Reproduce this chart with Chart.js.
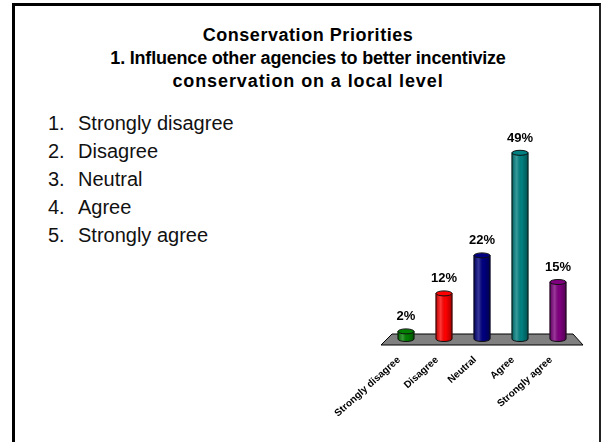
<!DOCTYPE html>
<html lang="en">
<head>
<meta charset="UTF-8">
<title>Conservation Priorities</title>
<script src="https://cdn.jsdelivr.net/npm/chart.js"></script>
<style>
    html, body { margin: 0; padding: 0; width: 602px; height: 442px; overflow: hidden; background: #fff; }
    .frame { position: absolute; left: 12px; top: 3px; width: 589px; height: 480px; box-sizing: border-box;
             border-left: 3px solid #000; border-top: 3px solid #000; border-right: 2px solid #222; }
    .title { position: absolute; left: 0; top: 24px; width: 616px; text-align: center;
             font: bold 18px "Liberation Sans", Arial, sans-serif; line-height: 23px; color: #000; }
    .title .l1 { letter-spacing: 0.55px; }
    .title .l2 { letter-spacing: -0.2px; }
    .title .l3 { letter-spacing: 0.9px; }
    .list { position: absolute; left: 48px; top: 109px; margin: 0; padding: 0; list-style: none;
            font: 20px "Liberation Sans", Arial, sans-serif; line-height: 28px; color: #111; }
    .list .num { display: inline-block; width: 30px; }
    #grafica { position: absolute; left: 0; top: 0; }
</style>
</head>
<body>
<div class="frame"></div>
<div class="title">
    <span class="l1">Conservation Priorities</span><br>
    <span class="l2">1. Influence other agencies to better incentivize</span><br>
    <span class="l3">conservation on a local level</span>
</div>
<ul class="list" id="lista"></ul>
<canvas id="grafica" width="602" height="442"></canvas>
<script>
const categories = ['Strongly disagree', 'Disagree', 'Neutral', 'Agree', 'Strongly agree'];
const percentValues = [2, 12, 22, 49, 15];
const barColors = ['#008000', '#ff0000', '#000080', '#008080', '#800080'];

// numbered list on the left
let lista = document.getElementById('lista');
categories.forEach((c, i) => {
    lista.innerHTML += `<li><span class="num">${i + 1}.</span>${c}</li>`;
});

// floor + cylinder look + value labels
const cylinderPlugin = {
    id: 'cylinders',
    beforeDatasetsDraw(chart) {
        const {ctx, chartArea: a, scales: {y}} = chart;
        const base = y.getPixelForValue(0);
        ctx.save();
        ctx.beginPath();
        ctx.moveTo(a.left + 5, base - 5);
        ctx.lineTo(a.right - 4, base - 5);
        ctx.lineTo(a.right + 6, base + 6);
        ctx.lineTo(a.left - 6, base + 6);
        ctx.closePath();
        ctx.fillStyle = '#808080';
        ctx.fill();
        ctx.strokeStyle = '#000';
        ctx.lineWidth = 1;
        ctx.stroke();
        ctx.restore();
    },
    afterDatasetsDraw(chart) {
        const ctx = chart.ctx;
        const meta = chart.getDatasetMeta(0);
        meta.data.forEach((bar, i) => {
            const {x, y, base, width} = bar.getProps(['x', 'y', 'base', 'width'], true);
            const r = width / 2, ry = 2.5, col = barColors[i];
            ctx.save();
            // body with rounded bottom
            ctx.beginPath();
            ctx.moveTo(x - r, y);
            ctx.lineTo(x - r, base);
            ctx.ellipse(x, base, r, ry, 0, Math.PI, 0, true);
            ctx.lineTo(x + r, y);
            ctx.closePath();
            ctx.fillStyle = col;
            ctx.fill();
            let g = ctx.createLinearGradient(x - r, 0, x + r, 0);
            g.addColorStop(0, 'rgba(0,0,0,0.25)');
            g.addColorStop(0.3, 'rgba(255,255,255,0.22)');
            g.addColorStop(0.6, 'rgba(0,0,0,0)');
            g.addColorStop(1, 'rgba(0,0,0,0.35)');
            ctx.fillStyle = g;
            ctx.fill();
            ctx.strokeStyle = '#111';
            ctx.lineWidth = 1;
            ctx.stroke();
            // top cap
            ctx.beginPath();
            ctx.ellipse(x, y, r, ry, 0, 0, Math.PI * 2);
            ctx.fillStyle = col;
            ctx.fill();
            ctx.stroke();
            // value label
            ctx.fillStyle = '#000';
            ctx.font = 'bold 13px "Liberation Sans", Arial, sans-serif';
            ctx.textAlign = 'center';
            ctx.textBaseline = 'alphabetic';
            ctx.fillText(percentValues[i] + '%', x, y - 11);
            ctx.restore();
        });
    }
};

new Chart(document.getElementById('grafica').getContext('2d'), {
    type: 'bar',
    data: {
        labels: categories,
        datasets: [{
            data: percentValues,
            backgroundColor: barColors,
            borderWidth: 0,
            barThickness: 16
        }]
    },
    options: {
        responsive: false,
        animation: false,
        layout: {padding: {left: 387, right: 25, top: 149, bottom: 0}},
        plugins: {legend: {display: false}, tooltip: {enabled: false}},
        scales: {
            x: {
                grid: {display: false, drawTicks: false},
                border: {display: false},
                ticks: {
                    minRotation: 42, maxRotation: 42,
                    padding: 15, labelOffset: -7,
                    color: '#000',
                    font: {family: '"Liberation Sans", Arial, sans-serif', size: 10, weight: 'bold'}
                },
                afterFit: s => { s.height = 103; }
            },
            y: {display: false, min: 0, max: 50}
        }
    },
    plugins: [cylinderPlugin]
});
</script>
</body>
</html>
